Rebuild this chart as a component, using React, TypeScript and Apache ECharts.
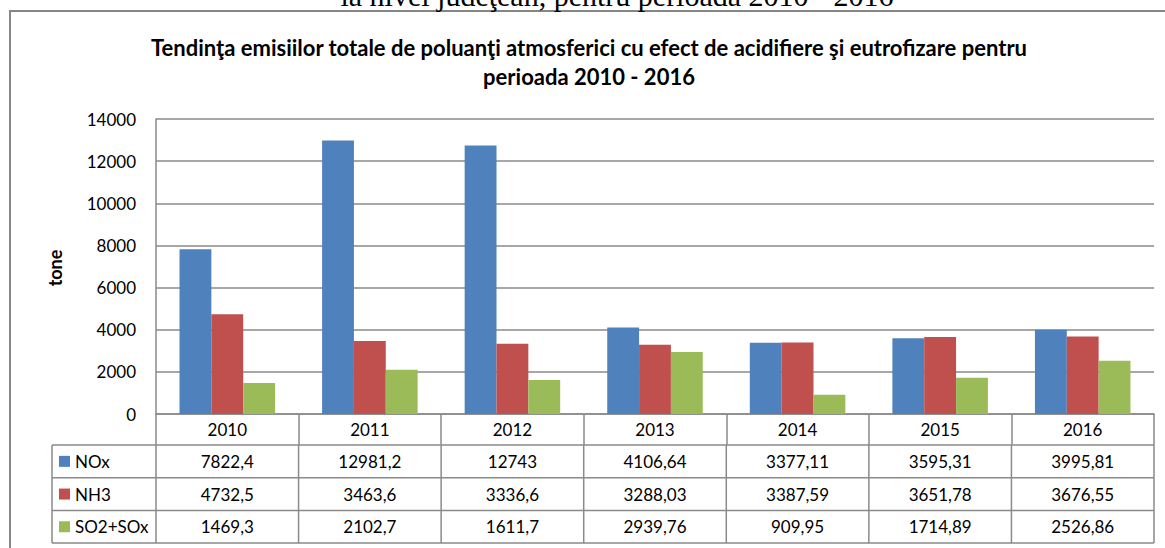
import React, { useEffect, useRef } from "react";
import * as echarts from "echarts";

const years = ["2010", "2011", "2012", "2013", "2014", "2015", "2016"];
const seriesNames = ["NOx", "NH3", "SO2+SOx"];
const nox = [7822.4, 12981.2, 12743, 4106.64, 3377.11, 3595.31, 3995.81];
const nh3 = [4732.5, 3463.6, 3336.6, 3288.03, 3387.59, 3651.78, 3676.55];
const so2 = [1469.3, 2102.7, 1611.7, 2939.76, 909.95, 1714.89, 2526.86];
const colors = ["#4F81BD", "#C0504D", "#9BBB59"];
const yTicks = { min: 0, max: 14000, interval: 2000 };
const titleLines = [
  "Tendinţa emisiilor totale de poluanţi atmosferici cu efect de acidifiere şi eutrofizare pentru",
  "perioada 2010 - 2016",
];
const caption = "la nivel judeţean, pentru perioada 2010 - 2016";

const W = 1165;
const H = 548;
const PLOT_LEFT = 156;
const PLOT_RIGHT = 1154;
const PLOT_TOP = 119;
const PLOT_BOTTOM = 414;
const TABLE_LEFT = 52;
const HEADER_BOTTOM = 445;
const ROW_H = 32.7;
const FONT = "Lato, 'Open Sans', sans-serif";
const LINE = "#8a8a8a";
const FS = 17;

const fmt = (v: number) => String(v).replace(".", ",");

export default function App() {
  const ref = useRef<HTMLDivElement>(null);
  useEffect(() => {
    if (!ref.current) return;
    const chart = echarts.init(ref.current, undefined, { renderer: "svg" });
    const all = [nox, nh3, so2];
    const colW = (PLOT_RIGHT - PLOT_LEFT) / years.length;
    const tableBottom = HEADER_BOTTOM + ROW_H * all.length;

    const graphics: any[] = [];
    graphics.push({
      type: "rect",
      shape: { x: 10, y: 11, width: 1200, height: 600 },
      style: { fill: "none", stroke: "#868686", lineWidth: 2 },
      silent: true,
    });
    graphics.push({
      type: "text",
      x: 617,
      y: 10,
      style: {
        text: caption,
        font: "30px 'Liberation Serif', 'Times New Roman', serif",
        fill: "#000",
        align: "center",
        verticalAlign: "bottom",
      },
    });
    titleLines.forEach((t, i) => {
      graphics.push({
        type: "text",
        x: 589,
        y: 47 + i * 29,
        style: {
          text: t,
          font: `bold 22px ${FONT}`,
          fill: "#000",
          align: "center",
          verticalAlign: "middle",
        },
      });
    });
    graphics.push({
      type: "text",
      x: 55,
      y: 268,
      rotation: Math.PI / 2,
      style: {
        text: "tone",
        font: `bold 18px ${FONT}`,
        fill: "#000",
        align: "center",
        verticalAlign: "middle",
      },
    });
    for (let r = 0; r <= all.length; r++) {
      const y = HEADER_BOTTOM + r * ROW_H;
      graphics.push({
        type: "line",
        shape: { x1: TABLE_LEFT, y1: y, x2: PLOT_RIGHT, y2: y },
        style: { stroke: LINE, lineWidth: 1.5 },
        silent: true,
      });
    }
    const xs = [TABLE_LEFT];
    for (let c = 0; c <= years.length; c++) xs.push(PLOT_LEFT + c * colW);
    xs.forEach((x) => {
      graphics.push({
        type: "line",
        shape: { x1: x, y1: HEADER_BOTTOM, x2: x, y2: tableBottom },
        style: { stroke: LINE, lineWidth: 1.5 },
        silent: true,
      });
    });
    all.forEach((vals, r) => {
      const cy = HEADER_BOTTOM + r * ROW_H + ROW_H / 2;
      graphics.push({
        type: "rect",
        shape: { x: 59, y: cy - 5.5, width: 11, height: 11 },
        style: { fill: colors[r] },
      });
      graphics.push({
        type: "text",
        x: 75,
        y: cy,
        style: {
          text: seriesNames[r],
          font: `${FS}px ${FONT}`,
          fill: "#000",
          align: "left",
          verticalAlign: "middle",
        },
      });
      vals.forEach((v, c) => {
        graphics.push({
          type: "text",
          x: PLOT_LEFT + c * colW + colW / 2,
          y: cy,
          style: {
            text: fmt(v),
            font: `${FS}px ${FONT}`,
            fill: "#000",
            align: "center",
            verticalAlign: "middle",
          },
        });
      });
    });

    chart.setOption({
      animation: false,
      backgroundColor: "#fff",
      grid: {
        left: PLOT_LEFT,
        right: W - PLOT_RIGHT,
        top: PLOT_TOP,
        bottom: H - PLOT_BOTTOM,
        containLabel: false,
      },
      xAxis: {
        type: "category",
        data: years,
        boundaryGap: true,
        axisLine: { show: true, lineStyle: { color: LINE, width: 1.5 } },
        axisTick: {
          show: true,
          interval: 0,
          length: HEADER_BOTTOM - PLOT_BOTTOM,
          lineStyle: { color: LINE, width: 1.5 },
        },
        axisLabel: {
          margin: 7,
          fontSize: FS,
          fontFamily: FONT,
          color: "#000",
        },
      },
      yAxis: {
        type: "value",
        min: yTicks.min,
        max: yTicks.max,
        interval: yTicks.interval,
        axisLine: { show: true, lineStyle: { color: LINE, width: 1.5 } },
        axisTick: { show: false },
        splitLine: { show: true, lineStyle: { color: LINE, width: 1.5 } },
        axisLabel: {
          margin: 20,
          fontSize: FS,
          fontFamily: FONT,
          color: "#000",
          formatter: (v: number) => String(v),
        },
      },
      series: all.map((vals, i) => ({
        name: seriesNames[i],
        type: "bar",
        data: vals,
        barGap: 0,
        barCategoryGap: "33%",
        itemStyle: { color: colors[i] },
      })),
      graphic: graphics,
    });
    return () => chart.dispose();
  }, []);

  return (
    <div
      ref={ref}
      style={{ position: "fixed", left: 0, top: 0, width: W, height: H, background: "#fff" }}
    />
  );
}
